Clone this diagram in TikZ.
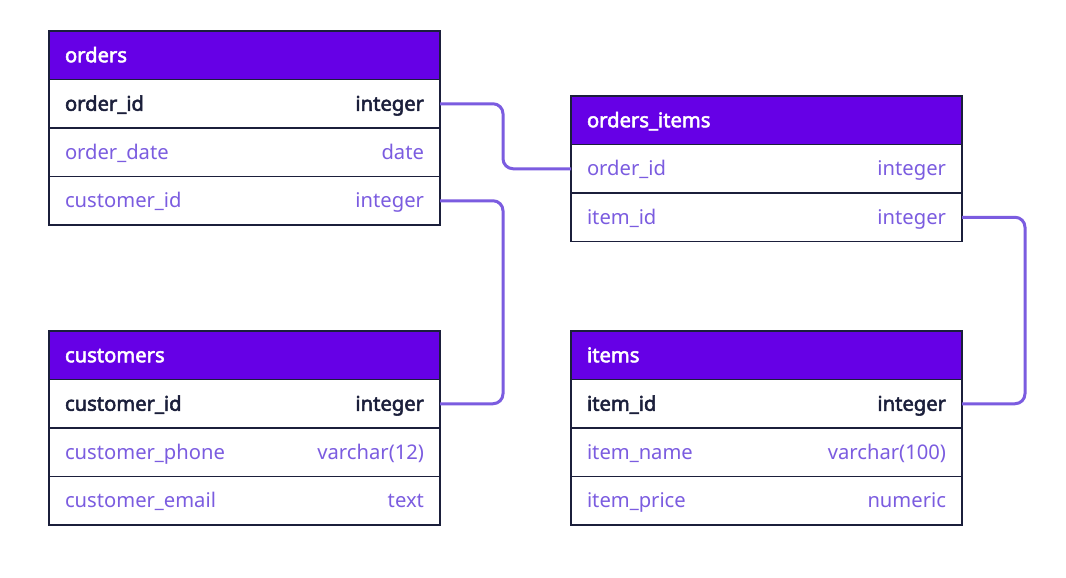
\documentclass[tikz,border=0pt]{standalone}
\usepackage{fontspec}
\setmainfont{Noto Sans}[AutoFakeBold=2.6]
\definecolor{navy}{HTML}{1B1F3B}
\definecolor{hdrpurple}{HTML}{6600E6}
\definecolor{colpurple}{HTML}{7B5CE0}
\definecolor{linkpurple}{HTML}{7B5CE0}
\tikzset{
  tbl/.style={draw=navy, line width=1.6pt, outer sep=0pt, minimum height=48.5pt,
    text width=359pt, inner xsep=16pt, inner ysep=0pt, anchor=north west, align=left,
    text height=16pt, text depth=2pt,
    font=\fontsize{20.2}{24}\selectfont},
  hdr/.style={tbl, fill=hdrpurple, text=white, font=\fontsize{20.2}{24}\selectfont\bfseries},
  keyrow/.style={tbl, fill=white, text=navy, font=\fontsize{20.2}{24}\selectfont\bfseries},
  colrow/.style={tbl, fill=white, text=colpurple},
  link/.style={draw=linkpurple, line width=3pt, rounded corners=10pt}
}
\begin{document}
\begin{tikzpicture}[x=1pt, y=-1pt]
\useasboundingbox[fill=white] (0,0) rectangle (1066,578);
% orders
\node[hdr] (orders) at (49,31) {orders};
\node[keyrow] (orders-order_id) at (orders.south west) {order\_id\hfill integer};
\node[colrow] (orders-order_date) at (orders-order_id.south west) {order\_date\hfill date};
\node[colrow] (orders-customer_id) at (orders-order_date.south west) {customer\_id\hfill integer};
% orders_items
\node[hdr] (oi) at (571,96) {orders\_items};
\node[colrow] (oi-order_id) at (oi.south west) {order\_id\hfill integer};
\node[colrow] (oi-item_id) at (oi-order_id.south west) {item\_id\hfill integer};
% customers
\node[hdr] (customers) at (49,331) {customers};
\node[keyrow] (customers-customer_id) at (customers.south west) {customer\_id\hfill integer};
\node[colrow] (customers-phone) at (customers-customer_id.south west) {customer\_phone\hfill varchar(12)};
\node[colrow] (customers-email) at (customers-phone.south west) {customer\_email\hfill text};
% items
\node[hdr] (items) at (571,331) {items};
\node[keyrow] (items-item_id) at (items.south west) {item\_id\hfill integer};
\node[colrow] (items-name) at (items-item_id.south west) {item\_name\hfill varchar(100)};
\node[colrow] (items-price) at (items-name.south west) {item\_price\hfill numeric};
% links
\draw[link] (orders-order_id.east) -- ++(63,0) |- (oi-order_id.west);
\draw[link] (orders-customer_id.east) -- ++(63,0) |- (customers-customer_id.east);
\draw[link] (oi-item_id.east) -- ++(63,0) |- (items-item_id.east);
\end{tikzpicture}
\end{document}
